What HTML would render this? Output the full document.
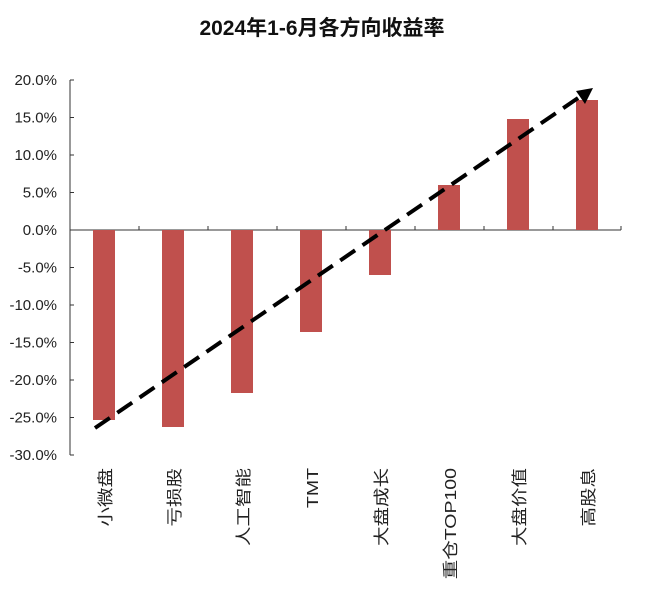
<!DOCTYPE html>
<html><head><meta charset="utf-8"><style>
body{margin:0;background:#fff}
svg{display:block;font-family:"Liberation Sans","Noto Sans CJK SC",sans-serif}
</style></head><body>
<svg width="645" height="595" viewBox="0 0 645 595">
<text x="322" y="35" text-anchor="middle" font-size="21" font-weight="bold" fill="#111">2024年1-6月各方向收益率</text>
<g font-size="15" fill="#222" text-anchor="end">
<text x="57" y="85">20.0%</text><text x="57" y="122.5">15.0%</text><text x="57" y="160">10.0%</text><text x="57" y="197.5">5.0%</text><text x="57" y="235">0.0%</text><text x="57" y="272.5">-5.0%</text><text x="57" y="310">-10.0%</text><text x="57" y="347.5">-15.0%</text><text x="57" y="385">-20.0%</text><text x="57" y="422.5">-25.0%</text><text x="57" y="460">-30.0%</text>
</g>
<g stroke="#333" stroke-width="1">
<line x1="70" y1="80" x2="70" y2="455"/>
<line x1="70" y1="80" x2="74" y2="80"/><line x1="70" y1="117.5" x2="74" y2="117.5"/><line x1="70" y1="155" x2="74" y2="155"/><line x1="70" y1="192.5" x2="74" y2="192.5"/><line x1="70" y1="267.5" x2="74" y2="267.5"/><line x1="70" y1="305" x2="74" y2="305"/><line x1="70" y1="342.5" x2="74" y2="342.5"/><line x1="70" y1="380" x2="74" y2="380"/><line x1="70" y1="417.5" x2="74" y2="417.5"/><line x1="70" y1="455" x2="74" y2="455"/>
<line x1="70" y1="230" x2="621" y2="230"/>
<line x1="139" y1="226" x2="139" y2="230"/><line x1="208" y1="226" x2="208" y2="230"/><line x1="277" y1="226" x2="277" y2="230"/><line x1="346" y1="226" x2="346" y2="230"/><line x1="415" y1="226" x2="415" y2="230"/><line x1="484" y1="226" x2="484" y2="230"/><line x1="553" y1="226" x2="553" y2="230"/><line x1="621" y1="226" x2="621" y2="230"/>
</g>
<g fill="#c0504d">
<rect x="93" y="230" width="22" height="190"/>
<rect x="162" y="230" width="22" height="197"/>
<rect x="231" y="230" width="22" height="163"/>
<rect x="300" y="230" width="22" height="102"/>
<rect x="369" y="230" width="22" height="45"/>
<rect x="438" y="185" width="22" height="45"/>
<rect x="507" y="119" width="22" height="111"/>
<rect x="576" y="100" width="22" height="130"/>
</g>
<line x1="95" y1="428" x2="581" y2="96" stroke="#000" stroke-width="4" stroke-dasharray="18,9"/>
<polygon points="593,88 576,91 585,104" fill="#000"/>
<g font-size="16" fill="#222" text-anchor="end">
<text transform="translate(111,468) rotate(-90) scale(1.22,1)">小微盘</text>
<text transform="translate(180,468) rotate(-90) scale(1.22,1)">亏损股</text>
<text transform="translate(249,468) rotate(-90) scale(1.22,1)">人工智能</text>
<text transform="translate(318,468) rotate(-90) scale(1.22,1)">TMT</text>
<text transform="translate(387,468) rotate(-90) scale(1.22,1)">大盘成长</text>
<text transform="translate(456,468) rotate(-90) scale(1.22,1)">重仓TOP100</text>
<text transform="translate(525,468) rotate(-90) scale(1.22,1)">大盘价值</text>
<text transform="translate(594,468) rotate(-90) scale(1.22,1)">高股息</text>
</g>
</svg>
</body></html>
